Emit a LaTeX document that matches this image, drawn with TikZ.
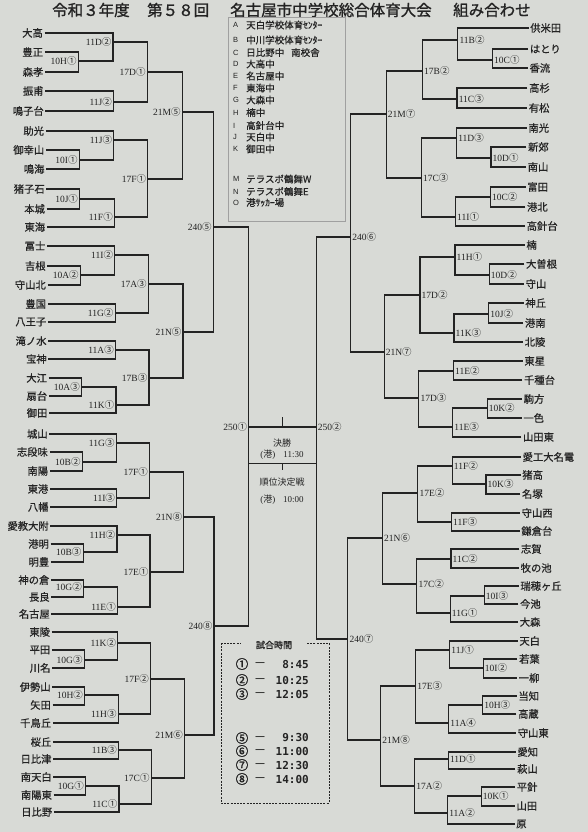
\documentclass[tikz,border=0pt]{standalone}
\usepackage{fontspec}
\setmainfont{Liberation Serif}
\newfontfamily\jp{Noto Sans CJK JP}
\newfontfamily\jpb{Noto Sans CJK JP}[FakeBold=1.2]
\newfontfamily\jpm{Noto Sans CJK JP}[FakeBold=0.6]
\newfontfamily\lsans{Liberation Sans}
\newfontfamily\dmono{DejaVu Sans Mono}
\usetikzlibrary{calc}
\definecolor{bg}{RGB}{216,218,214}
\definecolor{ink}{RGB}{35,35,35}
\definecolor{boxline}{RGB}{160,160,160}
\newcommand\tx[2]{240+((#1)-240)*(1-0.00006*((#2)-30))}
\newcommand\cd[1]{{\jp #1}}
\newcommand\lteam[3]{\node[tl] (#1) at ({\tx{44.5}{#2}},#2) {#3};}
\newcommand\rteam[3]{\node[tr] (#1) at ({\tx{528.5}{#2}},#2) {#3};}
\newcommand\lmatch[7]{\coordinate (#1) at ({\tx{#2}{#3}},#3);
  \draw[br] (#4) -| (#1); \draw[br] (#5) -| (#1);
  \node[labl] (#1t) at (#1) {#6\cd{#7}};}
\newcommand\rmatch[7]{\coordinate (#1) at ({\tx{#2}{#3}},#3);
  \draw[br] (#4) -| (#1); \draw[br] (#5) -| (#1);
  \node[labr] (#1t) at (#1) {#6\cd{#7}};}
\newcommand\legendrow[4]{\node[lgl] (#1a) at (233,#2) {#3}; \node[lgt] (#1b) at (246,#2) {#4};}
\newcommand\timerow[4]{\node[tcirc] (#1a) at (242,#2) {#3};
  \node[tdash] (#1b) at (260,#2) {—};
  \node[ttime] (#1c) at (309,#2) {#4};}
\tikzset{
  br/.style={draw=ink, line width=1.2pt},
  thinl/.style={draw=ink, line width=0.6pt},
  tl/.style={anchor=east, inner sep=0pt, inner xsep=1.5pt, text=ink, font=\jpm\fontsize{10.3}{10}\selectfont},
  tr/.style={anchor=west, inner sep=0pt, inner xsep=1.5pt, text=ink, font=\jpm\fontsize{10.3}{10}\selectfont},
  labl/.style={anchor=east, inner sep=0pt, xshift=-1.5pt, text=ink, font=\fontsize{9.5}{10}\selectfont},
  labr/.style={anchor=west, inner sep=0pt, xshift=1.5pt, text=ink, font=\fontsize{9.5}{10}\selectfont},
  ttl/.style={anchor=west, inner sep=0pt, text=ink, font=\jpb\fontsize{15.5}{16}\selectfont},
  lgl/.style={anchor=west, inner sep=0pt, text=ink, font=\lsans\fontsize{7.5}{8}\selectfont},
  lgt/.style={anchor=west, inner sep=0pt, text=ink, font=\jpm\fontsize{9.5}{10}\selectfont},
  ctr/.style={inner sep=0pt, text=ink, font=\jp\fontsize{9}{10}\selectfont},
  ctr2/.style={inner sep=0pt, text=ink, font=\fontsize{9}{10}\selectfont},
  tcirc/.style={inner sep=0pt, text=ink, font=\jpb\fontsize{12.5}{12}\selectfont},
  tdash/.style={inner sep=0pt, text=ink, font=\lsans\bfseries\fontsize{9}{9}\selectfont},
  ttime/.style={anchor=east, inner sep=0pt, text=ink, font=\dmono\bfseries\fontsize{11}{11}\selectfont},
  dashbox/.style={draw=ink, line width=1pt, dash pattern=on 2pt off 1.2pt},
}
\begin{document}
\begin{tikzpicture}[x=1pt,y=-1pt]
\fill[bg] (0,0) rectangle (588,832);
\useasboundingbox (0,0) rectangle (588,832);
% title
\node[ttl] (t1) at (52,10) {令和３年度};
\node[ttl] (t2) at (147,10) {第５８回};
\node[ttl] (t3) at (230,10) {名古屋市中学校総合体育大会};
\node[ttl] (t4) at (453,10) {組み合わせ};
% legend
\draw[boxline, line width=0.6pt] (228,17) rectangle (345,221);
\legendrow{lA}{25}{A}{天白学校体育ｾﾝﾀｰ}
\legendrow{lB}{40}{B}{中川学校体育ｾﾝﾀｰ}
\legendrow{lC}{52.5}{C}{日比野中\hspace{7pt}南校舎}
\legendrow{lD}{64}{D}{大高中}
\legendrow{lE}{76}{E}{名古屋中}
\legendrow{lF}{88}{F}{東海中}
\legendrow{lG}{100}{G}{大森中}
\legendrow{lH}{112.5}{H}{楠中}
\legendrow{lI}{125.5}{I}{高針台中}
\legendrow{lJ}{137}{J}{天白中}
\legendrow{lK}{149}{K}{御田中}
\legendrow{lM}{179}{M}{テラスポ鶴舞W}
\legendrow{lN}{191.5}{N}{テラスポ鶴舞E}
\legendrow{lO}{202.5}{O}{港ｻｯｶｰ場}
% left teams
\lteam{L1}{33}{大高}
\lteam{L2}{52}{豊正}
\lteam{L3}{72}{森孝}
\lteam{L4}{91}{振甫}
\lteam{L5}{111}{鳴子台}
\lteam{L6}{131}{助光}
\lteam{L7}{150}{御幸山}
\lteam{L8}{169}{鳴海}
\lteam{L9}{189}{猪子石}
\lteam{L10}{209}{本城}
\lteam{L11}{227}{東海}
\lteam{L12}{246}{冨士}
\lteam{L13}{266}{吉根}
\lteam{L14}{285}{守山北}
\lteam{L15}{304}{豊国}
\lteam{L16}{322}{八王子}
\lteam{L17}{341}{滝ノ水}
\lteam{L18}{359}{宝神}
\lteam{L19}{378}{大江}
\lteam{L20}{396}{扇台}
\lteam{L21}{413}{御田}
\lteam{L22}{434}{城山}
\lteam{L23}{452}{志段味}
\lteam{L24}{471}{南陽}
\lteam{L25}{489}{東港}
\lteam{L26}{507}{八幡}
\lteam{L27}{526}{愛教大附}
\lteam{L28}{544}{港明}
\lteam{L29}{562}{明豊}
\lteam{L30}{580}{神の倉}
\lteam{L31}{597}{長良}
\lteam{L32}{614}{名古屋}
\lteam{L33}{632}{東陵}
\lteam{L34}{650}{平田}
\lteam{L35}{668}{川名}
\lteam{L36}{687}{伊勢山}
\lteam{L37}{705}{矢田}
\lteam{L38}{723}{千鳥丘}
\lteam{L39}{742}{桜丘}
\lteam{L40}{759}{日比津}
\lteam{L41}{777}{南天白}
\lteam{L42}{795}{南陽東}
\lteam{L43}{812}{日比野}
% right teams
\rteam{R1}{28}{供米田}
\rteam{R2}{49}{はとり}
\rteam{R3}{68}{香流}
\rteam{R4}{88}{高杉}
\rteam{R5}{108}{有松}
\rteam{R6}{128}{南光}
\rteam{R7}{147}{新郊}
\rteam{R8}{167}{南山}
\rteam{R9}{187}{富田}
\rteam{R10}{207}{港北}
\rteam{R11}{226}{高針台}
\rteam{R12}{245}{楠}
\rteam{R13}{264}{大曽根}
\rteam{R14}{284}{守山}
\rteam{R15}{303}{神丘}
\rteam{R16}{323}{港南}
\rteam{R17}{342}{北陵}
\rteam{R18}{361}{東星}
\rteam{R19}{380}{千種台}
\rteam{R20}{399}{駒方}
\rteam{R21}{418}{一色}
\rteam{R22}{437}{山田東}
\rteam{R23}{457}{愛工大名電}
\rteam{R24}{475}{猪高}
\rteam{R25}{494}{名塚}
\rteam{R26}{513}{守山西}
\rteam{R27}{531}{鎌倉台}
\rteam{R28}{549}{志賀}
\rteam{R29}{568}{牧の池}
\rteam{R30}{586}{瑞穂ヶ丘}
\rteam{R31}{604}{今池}
\rteam{R32}{622}{大森}
\rteam{R33}{641}{天白}
\rteam{R34}{659}{若葉}
\rteam{R35}{678}{一柳}
\rteam{R36}{696}{当知}
\rteam{R37}{714}{高蔵}
\rteam{R38}{733}{守山東}
\rteam{R39}{752}{愛知}
\rteam{R40}{769}{萩山}
\rteam{R41}{787}{平針}
\rteam{R42}{806}{山田}
\rteam{R43}{824}{原}
% left bracket
\lmatch{a10H1}{78}{61}{L2.east}{L3.east}{10H}{①}
\lmatch{a11D2}{113}{42}{L1.east}{a10H1}{11D}{②}
\lmatch{a11J2}{113}{102}{L4.east}{L5.east}{11J}{②}
\lmatch{a17D1}{147}{72}{a11D2}{a11J2}{17D}{①}
\lmatch{a10I1}{78}{160}{L7.east}{L8.east}{10I}{①}
\lmatch{a11J3}{113}{140}{L6.east}{a10I1}{11J}{③}
\lmatch{a10J1}{78}{199}{L9.east}{L10.east}{10J}{①}
\lmatch{a11F1}{113}{217}{a10J1}{L11.east}{11F}{①}
\lmatch{a17F1}{147}{179}{a11J3}{a11F1}{17F}{①}
\lmatch{a21M5}{182}{112}{a17D1}{a17F1}{21M}{⑤}
\lmatch{a10A2}{78}{275}{L13.east}{L14.east}{10A}{②}
\lmatch{a11I2}{113}{255}{L12.east}{a10A2}{11I}{②}
\lmatch{a11G2}{113}{313}{L15.east}{L16.east}{11G}{②}
\lmatch{a17A3}{147}{284}{a11I2}{a11G2}{17A}{③}
\lmatch{a11A3}{113}{350}{L17.east}{L18.east}{11A}{③}
\lmatch{a10A3}{78}{387}{L19.east}{L20.east}{10A}{③}
\lmatch{a11K1}{113}{405}{a10A3}{L21.east}{11K}{①}
\lmatch{a17B3}{147}{378}{a11A3}{a11K1}{17B}{③}
\lmatch{a21N5}{182}{332}{a17A3}{a17B3}{21N}{⑤}
\lmatch{a24O5}{213}{227}{a21M5}{a21N5}{240}{⑤}
\lmatch{a10B2}{78}{462}{L23.east}{L24.east}{10B}{②}
\lmatch{a11G3}{113}{443}{L22.east}{a10B2}{11G}{③}
\lmatch{a11I3}{113}{498}{L25.east}{L26.east}{11I}{③}
\lmatch{a17F1b}{147}{472}{a11G3}{a11I3}{17F}{①}
\lmatch{a10B3}{78}{552}{L28.east}{L29.east}{10B}{③}
\lmatch{a11H2}{113}{535}{L27.east}{a10B3}{11H}{②}
\lmatch{a10G2}{78}{587}{L30.east}{L31.east}{10G}{②}
\lmatch{a11E1}{113}{607}{a10G2}{L32.east}{11E}{①}
\lmatch{a17E1}{147}{572}{a11H2}{a11E1}{17E}{①}
\lmatch{a21N8}{182}{517}{a17F1b}{a17E1}{21N}{⑧}
\lmatch{a10G3}{78}{660}{L34.east}{L35.east}{10G}{③}
\lmatch{a11K2}{113}{643}{L33.east}{a10G3}{11K}{②}
\lmatch{a10H2}{78}{695}{L36.east}{L37.east}{10H}{②}
\lmatch{a11H3}{113}{714}{a10H2}{L38.east}{11H}{③}
\lmatch{a17F2}{147}{679}{a11K2}{a11H3}{17F}{②}
\lmatch{a11B3}{113}{750}{L39.east}{L40.east}{11B}{③}
\lmatch{a10G1}{78}{786}{L41.east}{L42.east}{10G}{①}
\lmatch{a11C1}{113}{804}{a10G1}{L43.east}{11C}{①}
\lmatch{a17C1}{147}{778}{a11B3}{a11C1}{17C}{①}
\lmatch{a21M6}{182}{735}{a17F2}{a17C1}{21M}{⑥}
\lmatch{a24O8}{213}{626}{a21N8}{a21M6}{240}{⑧}
\lmatch{F1}{249}{427}{a24O5}{a24O8}{250}{①}
% right bracket
\rmatch{b10C1}{493}{60}{R2.west}{R3.west}{10C}{①}
\rmatch{b11B2}{458}{40}{R1.west}{b10C1}{11B}{②}
\rmatch{b11C3}{458}{99}{R4.west}{R5.west}{11C}{③}
\rmatch{b17B2}{423}{71}{b11B2}{b11C3}{17B}{②}
\rmatch{b10D1}{493}{158}{R7.west}{R8.west}{10D}{①}
\rmatch{b11D3}{458}{138}{R6.west}{b10D1}{11D}{③}
\rmatch{b10C2}{493}{197}{R9.west}{R10.west}{10C}{②}
\rmatch{b11I1}{458}{217}{b10C2}{R11.west}{11I}{①}
\rmatch{b17C3}{423}{178}{b11D3}{b11I1}{17C}{③}
\rmatch{b21M7}{387}{114}{b17B2}{b17C3}{21M}{⑦}
\rmatch{b10D2}{493}{275}{R13.west}{R14.west}{10D}{②}
\rmatch{b11H1}{458}{257}{R12.west}{b10D2}{11H}{①}
\rmatch{b10J2}{493}{314}{R15.west}{R16.west}{10J}{②}
\rmatch{b11K3}{458}{333}{b10J2}{R17.west}{11K}{③}
\rmatch{b17D2}{423}{295}{b11H1}{b11K3}{17D}{②}
\rmatch{b11E2}{458}{371}{R18.west}{R19.west}{11E}{②}
\rmatch{b10K2}{493}{408}{R20.west}{R21.west}{10K}{②}
\rmatch{b11E3}{458}{427}{b10K2}{R22.west}{11E}{③}
\rmatch{b17D3}{423}{398}{b11E2}{b11E3}{17D}{③}
\rmatch{b21N7}{387}{352}{b17D2}{b17D3}{21N}{⑦}
\rmatch{b24O6}{352}{237}{b21M7}{b21N7}{240}{⑥}
\rmatch{b10K3}{493}{484}{R24.west}{R25.west}{10K}{③}
\rmatch{b11F2}{458}{466}{R23.west}{b10K3}{11F}{②}
\rmatch{b11F3}{458}{522}{R26.west}{R27.west}{11F}{③}
\rmatch{b17E2}{423}{493}{b11F2}{b11F3}{17E}{②}
\rmatch{b11C2}{458}{559}{R28.west}{R29.west}{11C}{②}
\rmatch{b10I3}{493}{596}{R30.west}{R31.west}{10I}{③}
\rmatch{b11G1}{458}{613}{b10I3}{R32.west}{11G}{①}
\rmatch{b17C2}{423}{584}{b11C2}{b11G1}{17C}{②}
\rmatch{b21N6}{387}{538}{b17E2}{b17C2}{21N}{⑥}
\rmatch{b10I2}{493}{668}{R34.west}{R35.west}{10I}{②}
\rmatch{b11J1}{458}{650}{R33.west}{b10I2}{11J}{①}
\rmatch{b10H3}{493}{705}{R36.west}{R37.west}{10H}{③}
\rmatch{b11A4}{458}{723}{b10H3}{R38.west}{11A}{④}
\rmatch{b17E3}{423}{686}{b11J1}{b11A4}{17E}{③}
\rmatch{b11D1}{458}{759}{R39.west}{R40.west}{11D}{①}
\rmatch{b10K1}{493}{796}{R41.west}{R42.west}{10K}{①}
\rmatch{b11A2}{458}{813}{b10K1}{R43.west}{11A}{②}
\rmatch{b17A2}{423}{786}{b11D1}{b11A2}{17A}{②}
\rmatch{b21M8}{387}{740}{b17E3}{b17A2}{21M}{⑧}
\rmatch{b24O7}{352}{639}{b21N6}{b21M8}{240}{⑦}
\rmatch{F2}{318}{427}{b24O6}{b24O7}{250}{②}
% final
\draw[br] (F1) -- (F2);
\coordinate (fm) at ($(F1)!0.5!(F2)$);
\draw[br] (fm) -- ++(0,-10);
\coordinate (hb) at (282,463);
\draw[thinl] (F1 |- hb) -- (F2 |- hb);
\draw[thinl] (hb) -- ++(0,7);
\node[ctr] (fin1) at (282,443) {決勝};
\node[ctr2] (fin2) at (282,455) {(\cd{港})\hspace{8pt}11:30};
\node[ctr] (fin3) at (282,482) {順位決定戦};
\node[ctr2] (fin4) at (282,500) {(\cd{港})\hspace{8pt}10:00};
% times box
\draw[dashbox] (221,643) rectangle (329,803);
\node[fill=bg, inner xsep=15pt, inner ysep=2pt, text=ink, font=\jpb\fontsize{9}{9}\selectfont] (tbt) at (274,645) {試合時間};
\timerow{tr1}{664}{①}{8:45}
\timerow{tr2}{680}{②}{10:25}
\timerow{tr3}{694}{③}{12:05}
\timerow{tr5}{738}{⑤}{9:30}
\timerow{tr6}{751}{⑥}{11:00}
\timerow{tr7}{765}{⑦}{12:30}
\timerow{tr8}{779}{⑧}{14:00}
\end{tikzpicture}
\end{document}
